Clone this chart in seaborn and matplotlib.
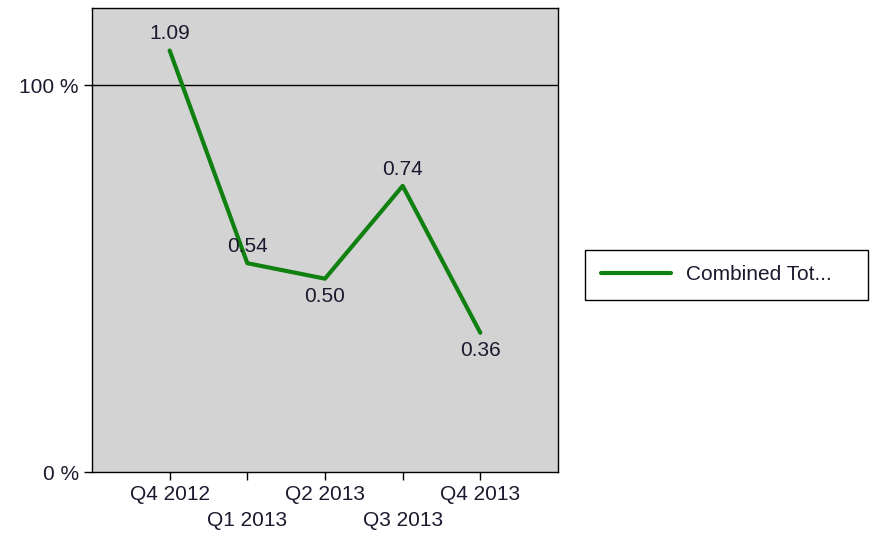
import matplotlib
matplotlib.use("Agg")
import matplotlib.pyplot as plt
import seaborn as sns
import pandas as pd

quarters = ["Q4 2012", "Q1 2013", "Q2 2013", "Q3 2013", "Q4 2013"]
values = [1.09, 0.54, 0.50, 0.74, 0.36]
label_above = [True, True, False, True, False]
series_name = "Combined Tot..."

sns.set_style("white")
plt.rcParams['font.family'] = ['Liberation Sans', 'DejaVu Sans']

df = pd.DataFrame({"pos": range(len(quarters)), "value": values, "series": series_name})

fig = plt.figure(figsize=(8.83, 5.34), dpi=100)
ax = fig.add_axes([92/883, 1 - 472/534, (558-92)/883, (472-8)/534])
ax.set_facecolor("#d3d3d3")

sns.lineplot(data=df, x="pos", y="value", hue="series", palette=["#108010"],
             linewidth=3, ax=ax, legend=False)

ax.axhline(1.0, color="black", linewidth=1, zorder=1)

fs = 15
for i, (v, up) in enumerate(zip(values, label_above)):
    ax.annotate(f"{v:.2f}", (i, v), xytext=(0, 12 if up else -13),
                textcoords="offset points", ha="center",
                va="center", fontsize=fs, color="#1a1a2e")

ax.set_xlim(-1, 5)
ax.set_ylim(0, 1.2)
ax.set_xticks(range(len(quarters)))
ax.set_xticklabels([q if i % 2 == 0 else "\n" + q for i, q in enumerate(quarters)],
                   linespacing=1.45)
ax.set_yticks([0, 1.0])
ax.set_yticklabels(["0 %", "100 %"])
ax.tick_params(axis="both", direction="out", length=6, width=1, color="black",
               labelsize=fs, labelcolor="#1a1a2e", bottom=True, left=True)
ax.set_xlabel("")
ax.set_ylabel("")
for s in ax.spines.values():
    s.set_color("black")
    s.set_linewidth(1)

from matplotlib.lines import Line2D
h = [Line2D([0], [0], color="#108010", linewidth=3)]
leg = fig.legend(h, [series_name], loc="center left",
                 bbox_to_anchor=(585/883, 1 - 300/534, (868-585)/883, 50/534),
                 mode="expand", fontsize=fs, handlelength=3.4, borderpad=0.75,
                 borderaxespad=0, handletextpad=0.7,
                 fancybox=False, frameon=True, framealpha=1)
leg.get_frame().set_edgecolor("black")
leg.get_frame().set_linewidth(1)
for t in leg.get_texts():
    t.set_color("#1a1a2e")

fig.savefig("out.png", dpi=100)
